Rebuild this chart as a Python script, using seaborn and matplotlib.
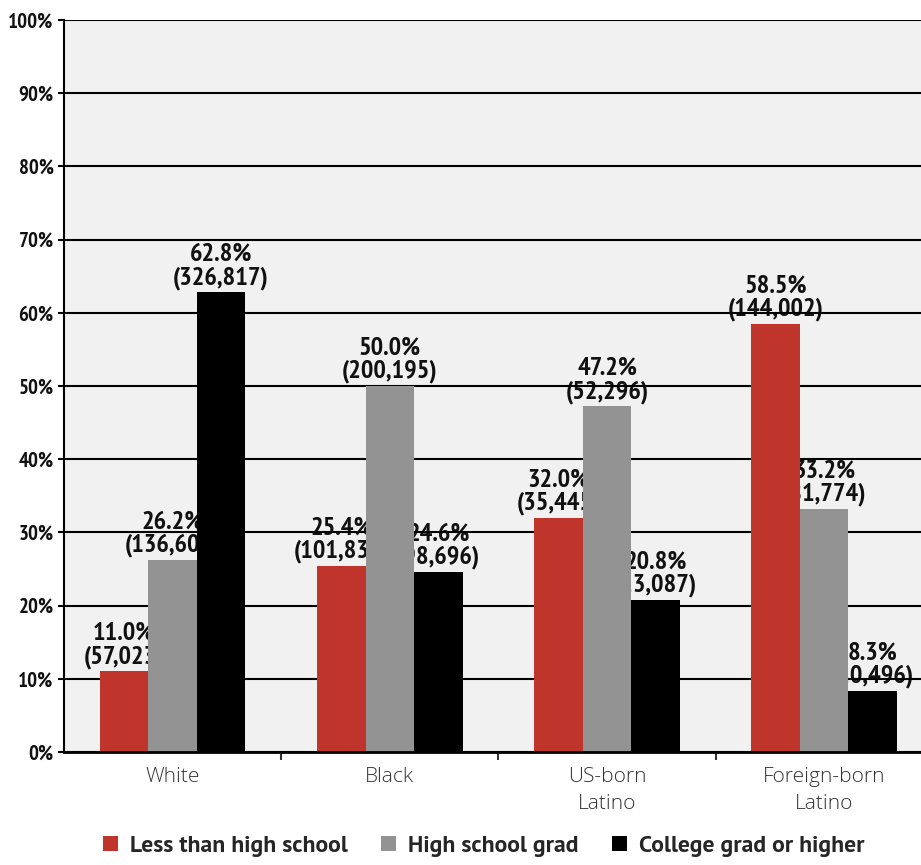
import pandas as pd
import seaborn as sns
import matplotlib.pyplot as plt
from matplotlib.ticker import MultipleLocator, FixedLocator

"""Chart data"""
groups = ['White', 'Black', 'US-born\nLatino', 'Foreign-born\nLatino']
levels = ['Less than high school', 'High school grad', 'College grad or higher']
less_hs = [11.0, 25.4, 32.0, 58.5]
hs_grad = [26.2, 50.0, 47.2, 33.2]
college = [62.8, 24.6, 20.8, 8.3]
less_hs_n = ['57,023', '101,831', '35,445', '144,002']
hs_grad_n = ['136,608', '200,195', '52,296', '81,774']
college_n = ['326,817', '98,696', '23,087', '20,496']

colors = ['#C0352B', '#939393', '#000000']
cond = ['PT Sans Narrow', 'DejaVu Sans']

rows = []
for lvl, vals in zip(levels, [less_hs, hs_grad, college]):
    for g, v in zip(groups, vals):
        rows.append({'group': g, 'level': lvl, 'pct': v})
df = pd.DataFrame(rows)

sns.set_style('white')
fig = plt.figure(figsize=(9.21, 8.65), dpi=100)
ax = fig.add_axes([64 / 921, 1 - 752 / 865, 1 - 64 / 921, (752 - 20) / 865])
ax.set_facecolor('#F1F1F1')

sns.barplot(ax=ax, data=df, x='group', y='pct', hue='level', order=groups,
            hue_order=levels, palette=colors, width=0.67, saturation=1,
            linewidth=0, legend=True)

"""Value labels sit behind the bars and grid, like the original"""
counts = [less_hs_n, hs_grad_n, college_n]
for cont, nums in zip(ax.containers, counts):
    for bar, n in zip(cont, nums):
        h = bar.get_height()
        ax.annotate(f'{h:.1f}%\n({n})', (bar.get_x() + bar.get_width() / 2, h),
                    xytext=(0, 2), textcoords='offset points', ha='center',
                    va='bottom', fontsize=19, fontweight='bold', family=cond,
                    linespacing=1.0, color='#111111', zorder=0.3)

ax.set_ylim(0, 100)
ax.set_xlim(-0.5, 3.446)
ax.yaxis.set_major_locator(MultipleLocator(10))
ax.set_yticklabels([f'{int(t)}%' for t in ax.get_yticks()])
ax.set_axisbelow(True)
ax.grid(axis='y', color='black', linewidth=1.5)
ax.grid(axis='x', visible=False)

for s in ['top', 'right']:
    ax.spines[s].set_visible(False)
ax.spines['left'].set_color('black')
ax.spines['left'].set_linewidth(1.5)
ax.spines['bottom'].set_color('black')
ax.spines['bottom'].set_linewidth(2)

ax.tick_params(axis='y', left=True, length=4, width=1.5, color='black', pad=3.5)
for lab in ax.get_yticklabels():
    lab.set_fontsize(15)
    lab.set_fontweight('bold')
    lab.set_family(cond)
    lab.set_color('#111111')

ax.xaxis.set_minor_locator(FixedLocator([0.5, 1.5, 2.5]))
ax.tick_params(axis='x', which='major', length=0, pad=11)
ax.tick_params(axis='x', which='minor', bottom=True, length=6, width=1.5, color='#333333')
for lab in ax.get_xticklabels():
    lab.set_fontsize(15)
    lab.set_color('#333333')
    lab.set_family(['Open Sans', 'DejaVu Sans'])
    lab.set_fontweight(300)
    lab.set_linespacing(1.45)
ax.set_xlabel('')
ax.set_ylabel('')

handles, labels = ax.get_legend_handles_labels()
ax.get_legend().remove()
fig.legend(handles, labels, loc='lower center', bbox_to_anchor=(0.525, -0.015),
           ncol=3, frameon=False, handlelength=0.65, handleheight=0.65,
           handletextpad=0.5, columnspacing=1.4,
           prop={'family': ['PT Sans', 'DejaVu Sans'], 'weight': 'bold', 'size': 17})

plt.savefig('out.png', dpi=100)
